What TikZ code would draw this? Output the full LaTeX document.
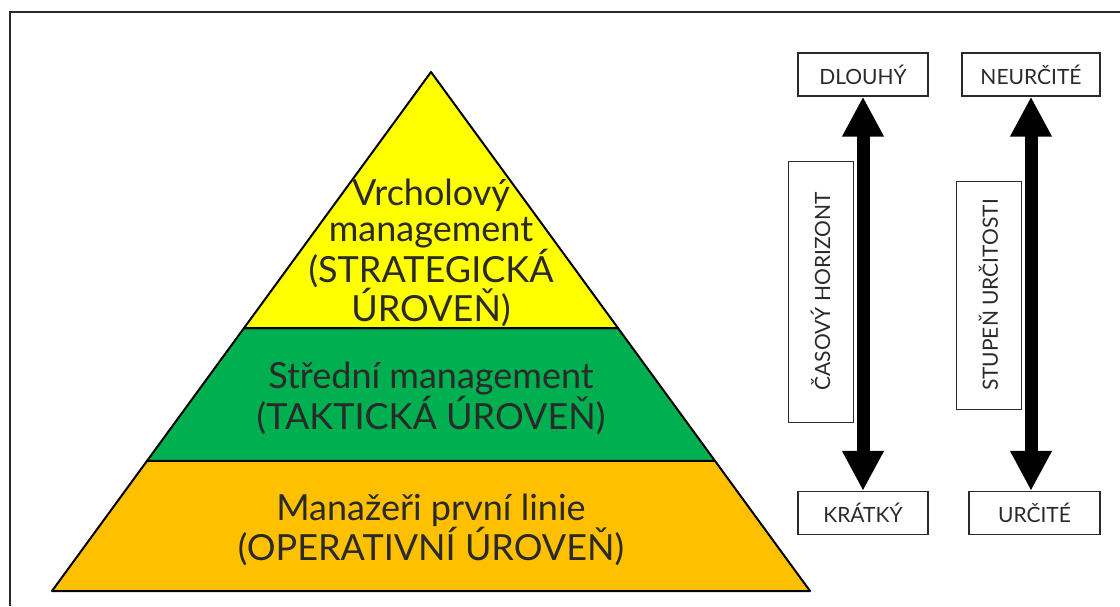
\documentclass[tikz,border=0pt]{standalone}
\usepackage{fontspec}
\setmainfont{Lato}
\usetikzlibrary{positioning,calc,arrows.meta}

\definecolor{topyellow}{HTML}{FFFF00}
\definecolor{midgreen}{HTML}{00B050}
\definecolor{lowgold}{HTML}{FFC000}
\definecolor{txtgray}{HTML}{2A2A2A}

\begin{document}
\begin{tikzpicture}[x=1pt, y=-1pt]
	\useasboundingbox (0,0) rectangle (1120,606);
	\tikzstyle{level}=[draw=black, line width=2pt, line join=round]
	\tikzstyle{lvltext}=[align=center, text=txtgray, inner sep=1pt, font=\fontsize{36}{36}\selectfont]
	\tikzstyle{endbox}=[draw=txtgray, line width=1.3pt, minimum height=43pt, text=txtgray, font=\fontsize{21}{24}\selectfont]
	\tikzstyle{axisbox}=[draw=txtgray, line width=1pt, rotate=90, minimum height=65pt, text=txtgray, font=\fontsize{21}{24}\selectfont]
	\tikzstyle{bigarrow}=[line width=13pt, {Triangle[width=39pt,length=40pt]}-{Triangle[width=39pt,length=40pt]}]

	% frame
	\draw [txtgray, line width=1.5pt] (10,606) -- (10,12) -- (1120,12);

	% pyramid
	\coordinate (apex) at (431, 72);
	\coordinate (bl)   at (52, 591);
	\coordinate (br)   at (810, 591);
	\coordinate (ml) at ($(apex)!0.4933!(bl)$);
	\coordinate (mr) at ($(apex)!0.4933!(br)$);
	\coordinate (ll) at ($(apex)!0.7495!(bl)$);
	\coordinate (lr) at ($(apex)!0.7495!(br)$);

	\draw [level, fill=lowgold]   (ll) -- (lr) -- (br) -- (bl) -- cycle;
	\draw [level, fill=midgreen]  (ml) -- (mr) -- (lr) -- (ll) -- cycle;
	\draw [level, fill=topyellow] (apex) -- (mr) -- (ml) -- cycle;

	\node [lvltext] (vrchol)   at (431, 253) {Vrcholový\\management\\(STRATEGICKÁ\\ÚROVEŇ)};
	\node [lvltext] (stredni)  at (431, 398) {Střední management\\(TAKTICKÁ ÚROVEŇ)};
	\node [lvltext] (manazeri) at (431, 530) {Manažeři první linie\\(OPERATIVNÍ ÚROVEŇ)};

	% horizon and certainty
	\node [endbox, minimum width=130pt] (dlouhy)   at (863, 74.5) {DLOUHÝ};
	\node [endbox, minimum width=130pt] (kratky)   at (863, 513)  {KRÁTKÝ};
	\node [endbox, minimum width=138pt] (neurcite) at (1031, 74.5) {NEURČITÉ};
	\node [endbox, minimum width=131pt] (urcite)   at (1034.5, 513) {URČITÉ};

	\node [axisbox, minimum width=261pt] (casovy) at (820.5, 291.5) {ČASOVÝ HORIZONT};
	\node [axisbox, minimum width=228pt] (stupen) at (988.5, 295)   {STUPEŇ URČITOSTI};

	\draw [bigarrow] (dlouhy.south) -- (kratky.north);
	\draw [bigarrow] (neurcite.south) -- (neurcite.south |- urcite.north);
\end{tikzpicture}
\end{document}
